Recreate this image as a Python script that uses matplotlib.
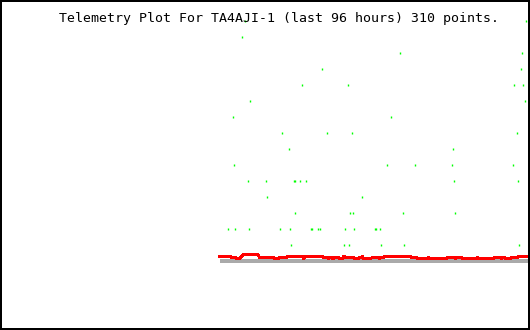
import matplotlib
matplotlib.use("Agg")
import matplotlib.pyplot as plt

title = "Telemetry Plot For TA4AJI-1 (last 96 hours) 310 points."

# red channel: (sample index, value) breakpoints
red_i = [0, 11, 12, 16, 17, 20, 21, 23, 24, 38, 39, 40, 54, 55, 59, 60, 67, 68,
         83, 84, 86, 103, 104, 108, 109, 110, 112, 113, 114, 115, 119, 120, 123,
         124, 126, 134, 135, 139, 140, 142, 143, 144, 151, 153, 159, 160, 161,
         164, 165, 191, 192, 197, 198, 208, 209, 210, 227, 228, 235, 236, 237,
         242, 243, 257, 258, 259, 274, 275, 281, 282, 283, 285, 286, 291, 292,
         298, 299, 309]
red_v = [0.31, 0.31, 0.23, 0.23, 0.15, 0.15, 0.23, 0.31, 0.43, 0.43, 0.31, 0.23,
         0.23, 0.15, 0.15, 0.23, 0.23, 0.31, 0.31, 0.15, 0.31, 0.31, 0.23, 0.23,
         0.15, 0.23, 0.23, 0.15, 0.15, 0.23, 0.23, 0.15, 0.15, 0.31, 0.23, 0.23,
         0.15, 0.15, 0.23, 0.23, 0.31, 0.15, 0.15, 0.23, 0.23, 0.15, 0.23, 0.23,
         0.31, 0.31, 0.23, 0.23, 0.15, 0.15, 0.23, 0.15, 0.15, 0.23, 0.23, 0.15,
         0.23, 0.23, 0.15, 0.15, 0.23, 0.15, 0.15, 0.23, 0.23, 0.15, 0.23, 0.23,
         0.15, 0.15, 0.23, 0.23, 0.31, 0.31]

# gray channel (flat)
gray_i = [0, 309]
gray_v = [0, 0]

# green channel samples
green_i = [25, 306, 22, 180, 302, 102, 301, 82, 128, 294, 303, 30, 305, 13, 171,
           62, 107, 132, 297, 69, 233, 14, 167, 195, 232, 293,
           28, 46, 74, 75, 80, 86, 234, 298, 47, 142,
           75, 130, 133, 183, 235,
           8, 15, 29, 60, 70, 91, 92, 98, 100, 125, 134, 155, 156, 160,
           71, 124, 129, 161, 184, 299]
green_v = [15, 15, 14, 13, 13, 12, 12, 11, 11, 11, 11, 10, 10, 9, 9,
           8, 8, 8, 8, 7, 7, 6, 6, 6, 6, 6,
           5, 5, 5, 5, 5, 5, 5, 5, 4, 4,
           3, 3, 3, 3, 3,
           2, 2, 2, 2, 2, 2, 2, 2, 2, 2, 2, 2, 2, 2,
           1, 1, 1, 1, 1, 1]

fig = plt.figure(figsize=(5.3, 3.3), dpi=100)
ax = fig.add_axes([0, 0, 1, 1])

ax.plot(gray_i, gray_v, color="#aaaaaa", lw=1.5, solid_capstyle="butt", antialiased=False)
ax.plot(red_i, red_v, color="#ff0000", lw=1.4, antialiased=False)
ax.plot(green_i, green_v, ls="none", marker="|", ms=1.8, mew=1.0,
        color="#00ff00", antialiased=False)

ax.set_xlim(-219.5, 310.5)
ax.set_ylim(-69 / 16, 261 / 16)
ax.set_xticks([])
ax.set_yticks([])
for s in ax.spines.values():
    s.set_linewidth(2.88)
    s.set_color("black")

fig.text(59 / 530, 1 - 21.7 / 330, title, family="DejaVu Sans Mono",
         fontsize=9.5, va="baseline", ha="left", color="black")

fig.savefig("out.png", dpi=100)
